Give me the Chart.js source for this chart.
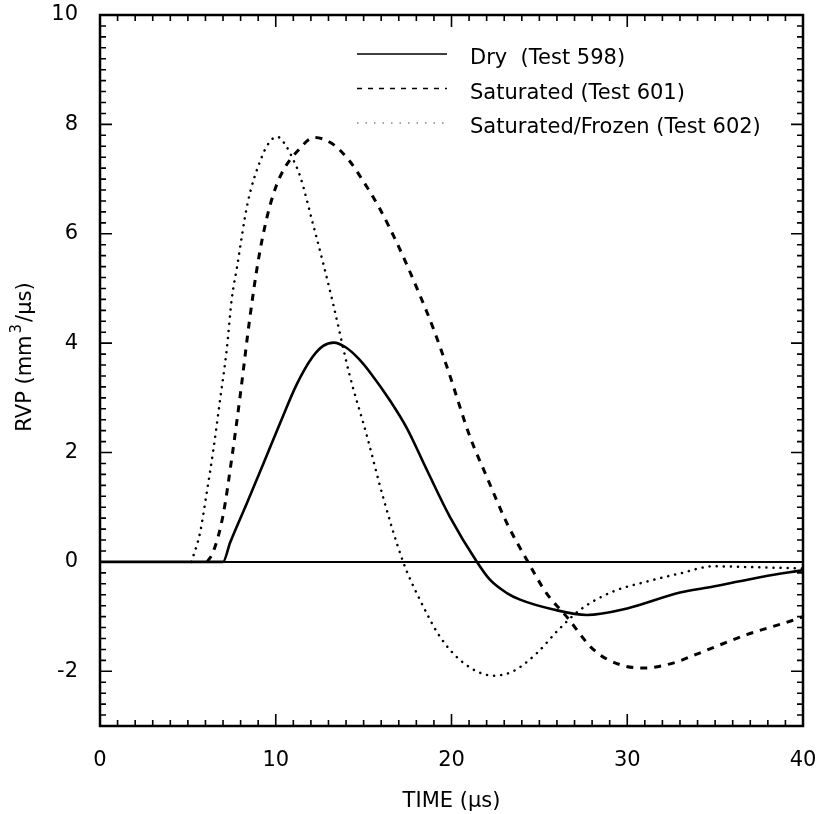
<!DOCTYPE html>
<html>
<head>
<meta charset="utf-8">
<script src="https://cdn.jsdelivr.net/npm/chart.js@4"></script>
<style>
  body { margin: 0; background: #fff; }
  #wrap { width: 826px; height: 814px; }
</style>
</head>
<body>
<div id="wrap"><canvas id="rvpChart"></canvas></div>
<script>
// time in microseconds, RVP in mm3/us
const dryTime = [0, 7.0, 7.4, 8.35, 9.3, 10.25, 11.2, 12.1, 12.7, 13.3, 14.0, 14.7, 15.4, 16.5, 17.45, 18.6, 19.9, 21.45, 22.2, 23.15, 23.9, 25.8, 27.7, 30.0, 33.0, 34.9, 37.7, 40]
const dryRvp  = [0, 0, 0.35, 1.07, 1.8, 2.54, 3.25, 3.75, 3.95, 4.01, 3.92, 3.72, 3.45, 2.95, 2.45, 1.68, 0.83, 0, -0.33, -0.57, -0.69, -0.87, -0.97, -0.85, -0.56, -0.45, -0.27, -0.15]

const satTime = [6.1, 6.45, 7.0, 7.5, 8.0, 8.5, 9.0, 9.5, 10.0, 10.5, 11.2, 12.2, 13.2, 14.2, 15.0, 15.9, 17.0, 18.0, 19.0, 19.8, 21.05, 22.0, 23.15, 24.3, 25.4, 26.55, 28.1, 29.6, 30.9, 32.6, 34.0, 36.8, 39.3, 40]
const satRvp  = [0, 0.19, 0.85, 1.9, 3.1, 4.4, 5.5, 6.3, 6.85, 7.2, 7.5, 7.76, 7.65, 7.33, 6.95, 6.47, 5.76, 5.03, 4.24, 3.51, 2.29, 1.56, 0.71, 0.03, -0.57, -1.0, -1.61, -1.88, -1.94, -1.85, -1.68, -1.33, -1.08, -1.0]

const frzTime = [5.2, 5.69, 6.07, 6.45, 6.83, 7.21, 7.49, 7.8, 8.4, 9.2, 9.7, 10.1, 10.5, 11.0, 11.4, 12.1, 12.7, 13.3, 14.2, 15.2, 16.1, 17.25, 18.2, 19.35, 20.7, 22.4, 23.5, 24.85, 26.0, 27.3, 29.2, 31.1, 33.0, 34.9, 37.7, 40]
const frzRvp  = [0, 0.53, 1.26, 2.05, 2.96, 3.88, 4.79, 5.4, 6.56, 7.4, 7.7, 7.77, 7.65, 7.35, 7.04, 6.2, 5.46, 4.67, 3.42, 2.29, 1.19, 0, -0.69, -1.37, -1.85, -2.08, -2.0, -1.67, -1.27, -0.88, -0.54, -0.36, -0.21, -0.08, -0.1, -0.12]

const zeroTime = [0, 40]
const zeroRvp = [0, 0]

const seriesLabels = ['Dry  (Test 598)', 'Saturated (Test 601)', 'Saturated/Frozen (Test 602)']
const xTickValues = [0, 10, 20, 30, 40]
const yTickValues = [-2, 0, 2, 4, 6, 8, 10]

const toPoints = (ts, vs) => ts.map((t, i) => ({ x: t, y: vs[i] }))

const FONT = 'DejaVu Sans'

const noScalePad = (s) => {
  s.paddingLeft = 0; s.paddingRight = 0; s.paddingTop = 0; s.paddingBottom = 0
}

// box + inward ticks on all four sides
const frameTicks = {
  id: 'frameTicks',
  afterDatasetsDraw(chart) {
    const { ctx, chartArea: a, scales: { x, y } } = chart
    ctx.save()
    ctx.strokeStyle = '#000'
    ctx.lineWidth = 2.5
    ctx.strokeRect(a.left, a.top, a.right - a.left, a.bottom - a.top)
    ctx.lineWidth = 1.6
    ctx.beginPath()
    for (let t = 0; t <= 40; t++) {
      const px = x.getPixelForValue(t)
      const len = t % 10 === 0 ? 12 : 6
      ctx.moveTo(px, a.bottom); ctx.lineTo(px, a.bottom - len)
      ctx.moveTo(px, a.top); ctx.lineTo(px, a.top + len)
    }
    for (let i = -15; i <= 50; i++) {
      const py = y.getPixelForValue(i / 5)
      const len = i % 10 === 0 ? 12 : 6
      ctx.moveTo(a.left, py); ctx.lineTo(a.left + len, py)
      ctx.moveTo(a.right, py); ctx.lineTo(a.right - len, py)
    }
    ctx.stroke()
    ctx.restore()
  }
}

// legend inside the plot, upper right
const insideLegend = {
  id: 'insideLegend',
  afterDraw(chart) {
    const { ctx, chartArea: a } = chart
    const x0 = a.left + 257, x1 = a.left + 347, tx = a.left + 370
    ctx.save()
    ctx.font = '21px "' + FONT + '"'
    ctx.textBaseline = 'middle'
    ctx.fillStyle = '#000'
    chart.data.datasets.filter(d => d.legendDash).forEach((d, i) => {
      const yy = a.top + 39 + i * 34.5
      ctx.beginPath()
      ctx.strokeStyle = d.legendColor
      ctx.lineWidth = 1.5
      ctx.setLineDash(d.legendDash)
      ctx.moveTo(x0, yy); ctx.lineTo(x1, yy)
      ctx.stroke()
      ctx.fillText(d.label, tx, yy + 5)
    })
    ctx.restore()
  }
}

// y title with a real superscript 3
const yTitle = {
  id: 'yTitle',
  afterDraw(chart) {
    const { ctx } = chart
    const big = '21px "' + FONT + '"', small = '15px "' + FONT + '"'
    const parts = [['RVP (mm', big, 0, 0], ['3', small, -9, 2], ['/µs)', big, 0, 2]]
    ctx.save()
    let w = 0
    parts.forEach(p => { ctx.font = p[1]; w += ctx.measureText(p[0]).width + p[3] })
    ctx.translate(26, 357)
    ctx.rotate(-Math.PI / 2)
    ctx.fillStyle = '#000'
    ctx.textBaseline = 'middle'
    let cx = -w / 2
    parts.forEach(p => {
      ctx.font = p[1]
      cx += p[3]
      ctx.fillText(p[0], cx, p[2])
      cx += ctx.measureText(p[0]).width
    })
    ctx.restore()
  }
}

const ctx = document.getElementById('rvpChart').getContext('2d')
const rvpChart = new Chart(ctx, {
  type: 'line',
  data: {
    datasets: [
      {
        label: 'zero',
        data: toPoints(zeroTime, zeroRvp),
        borderColor: '#000',
        borderWidth: 2,
        pointRadius: 0
      },
      {
        label: seriesLabels[0],
        data: toPoints(dryTime, dryRvp),
        borderColor: '#000',
        borderWidth: 2.6,
        pointRadius: 0,
        cubicInterpolationMode: 'monotone',
        legendDash: [],
        legendColor: '#000'
      },
      {
        label: seriesLabels[1],
        data: toPoints(satTime, satRvp),
        borderColor: '#000',
        borderWidth: 3,
        borderDash: [7, 7],
        pointRadius: 0,
        cubicInterpolationMode: 'monotone',
        legendDash: [5, 6],
        legendColor: '#000'
      },
      {
        label: seriesLabels[2],
        data: toPoints(frzTime, frzRvp),
        borderColor: '#000',
        borderWidth: 2.5,
        borderDash: [0.1, 7],
        borderCapStyle: 'round',
        pointRadius: 0,
        cubicInterpolationMode: 'monotone',
        legendDash: [1.5, 7],
        legendColor: '#888'
      }
    ]
  },
  options: {
    responsive: true,
    maintainAspectRatio: false,
    animation: false,
    layout: { padding: { top: 15, right: 23, left: 0, bottom: 0 } },
    plugins: {
      legend: { display: false },
      tooltip: { enabled: false }
    },
    scales: {
      x: {
        type: 'linear',
        min: 0,
        max: 40,
        grid: { display: false, drawTicks: false },
        border: { display: false },
        afterBuildTicks: (s) => { s.ticks = xTickValues.map(v => ({ value: v })) },
        afterFit: (s) => { s.height = 88; noScalePad(s) },
        ticks: { color: '#000', padding: 22, maxRotation: 0, font: { family: FONT, size: 21 } },
        title: {
          display: true,
          text: 'TIME (µs)',
          color: '#000',
          padding: { top: 0, bottom: 0 },
          font: { family: FONT, size: 21 }
        }
      },
      y: {
        min: -3,
        max: 10,
        grid: { display: false, drawTicks: false },
        border: { display: false },
        afterBuildTicks: (s) => { s.ticks = yTickValues.map(v => ({ value: v })) },
        afterFit: (s) => { s.width = 100; noScalePad(s) },
        ticks: { color: '#000', padding: 22, font: { family: FONT, size: 21 } },
        title: { display: false }
      }
    }
  },
  plugins: [frameTicks, insideLegend, yTitle]
})
</script>
</body>
</html>
